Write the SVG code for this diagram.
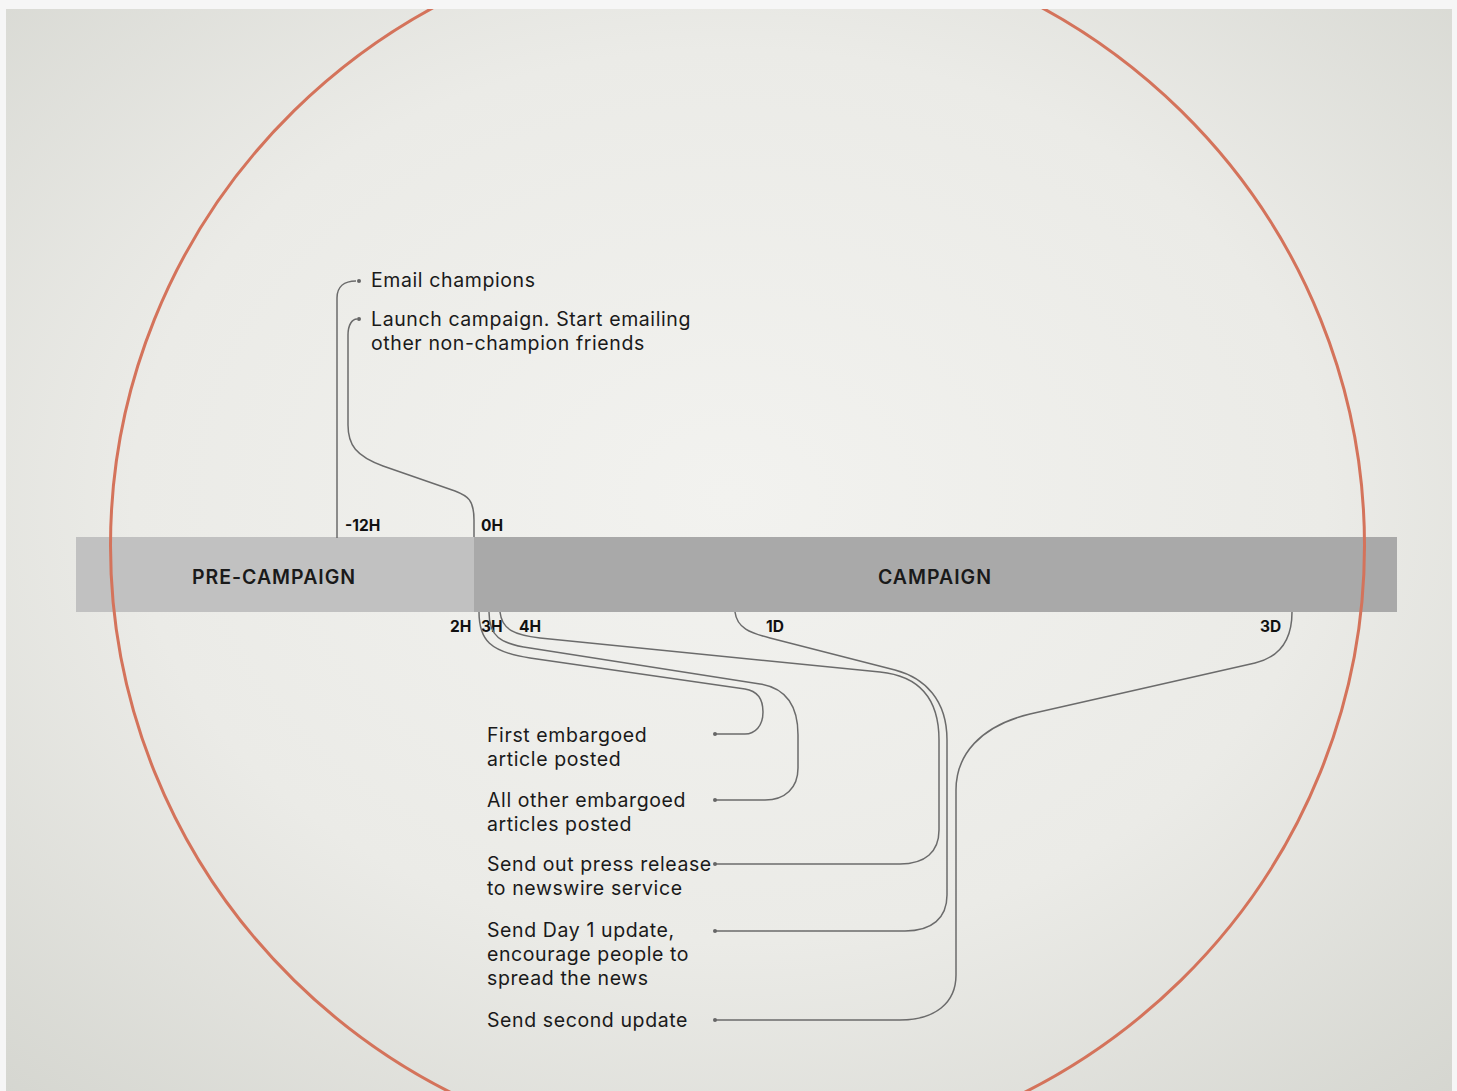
<svg xmlns="http://www.w3.org/2000/svg" width="1457" height="1091" viewBox="0 0 1457 1091">
  <defs>
    <radialGradient id="paper" cx="0.5" cy="0.45" r="0.75">
      <stop offset="0" stop-color="#f2f2ef"/>
      <stop offset="0.55" stop-color="#ebebe7"/>
      <stop offset="1" stop-color="#d5d6d0"/>
    </radialGradient>
    <clipPath id="sheet">
      <rect x="6" y="9" width="1446" height="1082"/>
    </clipPath>
    <style>
      .lead { fill: none; stroke: #6b6b6b; stroke-width: 1.5; }
      .dot { fill: #666666; }
      .note { font-family: Inter, "Open Sans", "Liberation Sans", sans-serif; font-size: 19.5px; letter-spacing: 0.6px; fill: #1a1a1a; }
      .tick { font-family: Inter, "Open Sans", "Liberation Sans", sans-serif; font-size: 15.5px; font-weight: 700; fill: #111111; }
      .phase { font-family: Inter, "Open Sans", "Liberation Sans", sans-serif; font-size: 19.5px; font-weight: 600; fill: #1a1a1a; letter-spacing: 1px; }
    </style>
  </defs>

  <!-- page and backdrop -->
  <rect x="0" y="0" width="1457" height="1091" fill="#f6f6f6"/>
  <rect x="6" y="9" width="1446" height="1082" fill="url(#paper)"/>

  <!-- timeline bar -->
  <g id="pre-campaign">
    <rect x="76" y="537" width="398" height="75" fill="#c1c1c1"/>
    <text class="phase" x="274" y="584" text-anchor="middle">PRE-CAMPAIGN</text>
  </g>
  <g id="campaign">
    <rect x="474" y="537" width="923" height="75" fill="#a9a9a9"/>
    <text class="phase" x="935" y="584" text-anchor="middle">CAMPAIGN</text>
  </g>

  <!-- large ring -->
  <ellipse id="ring" clip-path="url(#sheet)" cx="737.5" cy="545.5" rx="627" ry="615" fill="none" stroke="#d4735b" stroke-width="3"/>

  <!-- time ticks -->
  <g id="ticks">
    <text class="tick" x="345" y="531">-12H</text>
    <text class="tick" x="481" y="531">0H</text>
    <text class="tick" x="450" y="632">2H</text>
    <text class="tick" x="481" y="632">3H</text>
    <text class="tick" x="519" y="632">4H</text>
    <text class="tick" x="766" y="632">1D</text>
    <text class="tick" x="1260" y="632">3D</text>
  </g>

  <!-- leader lines -->
  <g id="connectors">
    <path class="lead" d="M337,538 V298 C337,287 344,281 356,281"/>
    <path class="lead" d="M474,537 V520 C474,500 468,496 455,491 L383,466 C356,456 348,445 348,425 V335 C348,325 352,319 357,319"/>
    <path class="lead" d="M479,612 C479,640 490,652 530,658 L745,689 C758,691 763,700 763,712 C763,726 755,734 745,734 H715"/>
    <path class="lead" d="M489,612 C489,636 500,644 530,648 L760,684 C785,688 798,705 798,735 V768 C798,788 785,800 765,800 H715"/>
    <path class="lead" d="M500,612 C502,630 515,635 540,638 L880,672 C920,676 939,700 939,740 V830 C939,852 925,864 900,864 H715"/>
    <path class="lead" d="M735,612 C737,628 750,633 770,638 L895,670 C925,678 947,700 947,740 V895 C947,918 932,931 905,931 H715"/>
    <path class="lead" d="M1292,612 C1292,640 1280,657 1255,663 L1030,714 C980,726 956,755 956,790 V975 C956,1003 935,1020 900,1020 H715"/>
  </g>

  <!-- milestone notes -->
  <g id="email-champions">
    <circle class="dot" cx="359" cy="281" r="2"/>
    <text class="note" x="371" y="287">Email champions</text>
  </g>
  <g id="launch-campaign">
    <circle class="dot" cx="359" cy="319" r="2"/>
    <text class="note" x="371" y="326">Launch campaign. Start emailing</text>
    <text class="note" x="371" y="350">other non-champion friends</text>
  </g>
  <g id="first-article">
    <circle class="dot" cx="715" cy="734" r="2"/>
    <text class="note" x="487" y="742">First embargoed</text>
    <text class="note" x="487" y="766">article posted</text>
  </g>
  <g id="other-articles">
    <circle class="dot" cx="715" cy="800" r="2"/>
    <text class="note" x="487" y="807">All other embargoed</text>
    <text class="note" x="487" y="831">articles posted</text>
  </g>
  <g id="press-release">
    <circle class="dot" cx="715" cy="864" r="2"/>
    <text class="note" x="487" y="871">Send out press release</text>
    <text class="note" x="487" y="895">to newswire service</text>
  </g>
  <g id="day1-update">
    <circle class="dot" cx="715" cy="931" r="2"/>
    <text class="note" x="487" y="937">Send Day 1 update,</text>
    <text class="note" x="487" y="961">encourage people to</text>
    <text class="note" x="487" y="985">spread the news</text>
  </g>
  <g id="second-update">
    <circle class="dot" cx="715" cy="1020" r="2"/>
    <text class="note" x="487" y="1027">Send second update</text>
  </g>
</svg>
